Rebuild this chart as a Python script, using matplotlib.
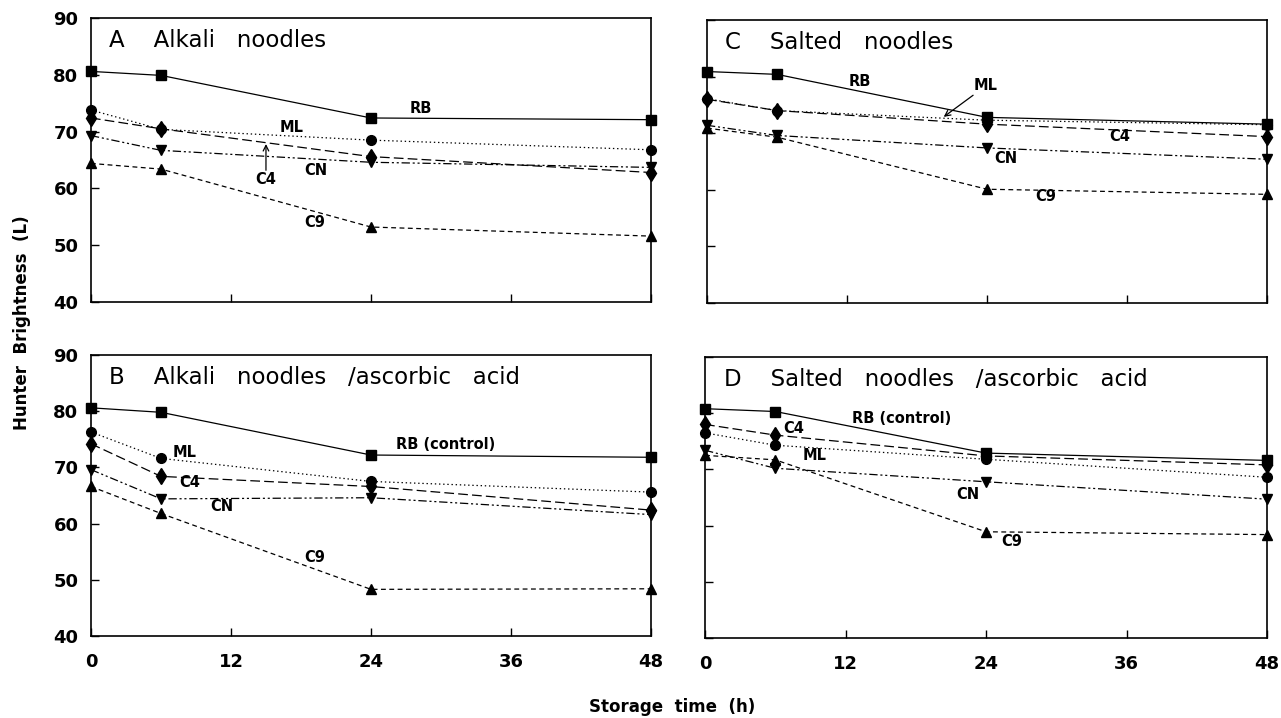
import matplotlib
matplotlib.use('Agg')
import matplotlib.pyplot as plt

plt.rcParams['font.family'] = 'DejaVu Sans'
plt.rcParams['lines.scale_dashes'] = False

# storage time (h)
hours = [0, 6, 24, 48]

# A - alkali noodles
a_rb = [80.6, 79.9, 72.4, 72.1]
a_ml = [73.8, 70.4, 68.5, 66.8]
a_c4 = [72.4, 70.5, 65.6, 62.8]
a_cn = [69.3, 66.7, 64.6, 63.7]
a_c9 = [64.4, 63.4, 53.2, 51.6]

# B - alkali noodles / ascorbic acid
b_rb = [80.6, 79.8, 72.2, 71.8]
b_ml = [76.3, 71.6, 67.5, 65.6]
b_c4 = [74.2, 68.4, 66.6, 62.4]
b_cn = [69.6, 64.4, 64.6, 61.6]
b_c9 = [66.6, 61.8, 48.3, 48.4]

# C - salted noodles
c_rb = [80.9, 80.4, 72.8, 71.6]
c_ml = [76.1, 74.0, 72.3, 71.5]
c_c4 = [76.0, 74.0, 71.6, 69.4]
c_cn = [71.4, 69.6, 67.4, 65.4]
c_c9 = [70.9, 69.3, 60.1, 59.2]

# D - salted noodles / ascorbic acid
d_rb = [80.8, 80.3, 72.9, 71.6]
d_ml = [76.5, 74.3, 71.8, 68.6]
d_c4 = [78.0, 76.1, 72.4, 70.8]
d_cn = [73.4, 70.2, 67.8, 64.7]
d_c9 = [72.5, 71.7, 58.9, 58.4]

x_ticks = [0, 12, 24, 36, 48]
y_ticks = [40, 50, 60, 70, 80, 90]

# line style for each cultivar
styles = {
    'RB': dict(marker='s', ms=7, ls='-'),
    'ML': dict(marker='o', ms=7, ls=(0, (1, 2))),
    'C4': dict(marker='d', ms=8, ls=(0, (7, 3))),
    'CN': dict(marker='v', ms=7, ls=(0, (6, 2, 1.5, 2, 1.5, 2))),
    'C9': dict(marker='^', ms=7, ls=(0, (3.5, 2.5))),
}


def draw_panel(ax, title, series, labels, show_y, show_x):
    for name, vals in series:
        st = styles[name]
        ax.plot(hours, vals, color='black', lw=0.9, ls=st['ls'],
                marker=st['marker'], ms=st['ms'], mfc='black', mec='black',
                clip_on=False, zorder=3)
    ax.set_xlim(0, 48)
    ax.set_ylim(40, 90)
    ax.set_xticks(x_ticks)
    ax.set_yticks(y_ticks)
    ax.tick_params(direction='in', length=6, width=1, top=False, right=False)
    ax.tick_params(axis='x', pad=12)
    ax.tick_params(axis='y', pad=9)
    if show_x:
        ax.set_xticklabels([str(t) for t in x_ticks], fontsize=13, fontweight='bold')
    else:
        ax.set_xticklabels([])
    if show_y:
        ax.set_yticklabels([str(v) for v in y_ticks], fontsize=13, fontweight='bold')
    else:
        ax.set_yticklabels([])
    for sp in ax.spines.values():
        sp.set_linewidth(1.2)
    ax.text(0.033, 0.92, title, transform=ax.transAxes, fontsize=16.5,
            ha='left', va='center')
    for txt, x, y in labels:
        ax.text(x, y, txt, fontsize=10.5, fontweight='bold', ha='center', va='center')


fig = plt.figure(figsize=(12.81, 7.18), dpi=100)
ax_a = fig.add_axes([0.0710, 0.5794, 0.4372, 0.3955])
ax_c = fig.add_axes([0.5519, 0.5780, 0.4372, 0.3941])
ax_b = fig.add_axes([0.0710, 0.1142, 0.4372, 0.3914])
ax_d = fig.add_axes([0.5504, 0.1114, 0.4387, 0.3914])

draw_panel(ax_a, 'A    Alkali   noodles',
           [('C9', a_c9), ('CN', a_cn), ('C4', a_c4), ('ML', a_ml), ('RB', a_rb)],
           [('RB', 28.3, 74.0), ('ML', 17.2, 70.8), ('C4', 15.0, 61.6),
            ('CN', 19.3, 63.1), ('C9', 19.2, 54.0)], True, False)
ax_a.annotate('', xy=(15.0, 68.3), xytext=(15.0, 62.7),
              arrowprops=dict(arrowstyle='->', color='black', lw=0.9))

draw_panel(ax_c, 'C    Salted   noodles',
           [('C9', c_c9), ('CN', c_cn), ('C4', c_c4), ('ML', c_ml), ('RB', c_rb)],
           [('RB', 13.1, 79.2), ('ML', 23.9, 78.4), ('C4', 35.4, 69.5),
            ('CN', 25.6, 65.6), ('C9', 29.0, 58.8)], False, False)
ax_c.annotate('', xy=(20.1, 72.6), xytext=(23.0, 77.0),
              arrowprops=dict(arrowstyle='->', color='black', lw=0.9))

draw_panel(ax_b, 'B    Alkali   noodles   /ascorbic   acid',
           [('C9', b_c9), ('CN', b_cn), ('C4', b_c4), ('ML', b_ml), ('RB', b_rb)],
           [('RB (control)', 30.4, 74.1), ('ML', 8.0, 72.6), ('C4', 8.5, 67.4),
            ('CN', 11.2, 63.0), ('C9', 19.2, 54.0)], True, True)

draw_panel(ax_d, 'D    Salted   noodles   /ascorbic   acid',
           [('C9', d_c9), ('CN', d_cn), ('ML', d_ml), ('C4', d_c4), ('RB', d_rb)],
           [('RB (control)', 16.8, 79.0), ('C4', 7.6, 77.2), ('ML', 9.4, 72.5),
            ('CN', 22.4, 65.6), ('C9', 26.2, 57.2)], False, True)

fig.text(0.525, 0.015, 'Storage  time  (h)', fontsize=12, fontweight='bold',
         ha='center', va='center')
fig.text(0.017, 0.55, 'Hunter  Brightness  (L)', fontsize=12, fontweight='bold',
         ha='center', va='center', rotation=90)

fig.savefig('out.png', dpi=100)
